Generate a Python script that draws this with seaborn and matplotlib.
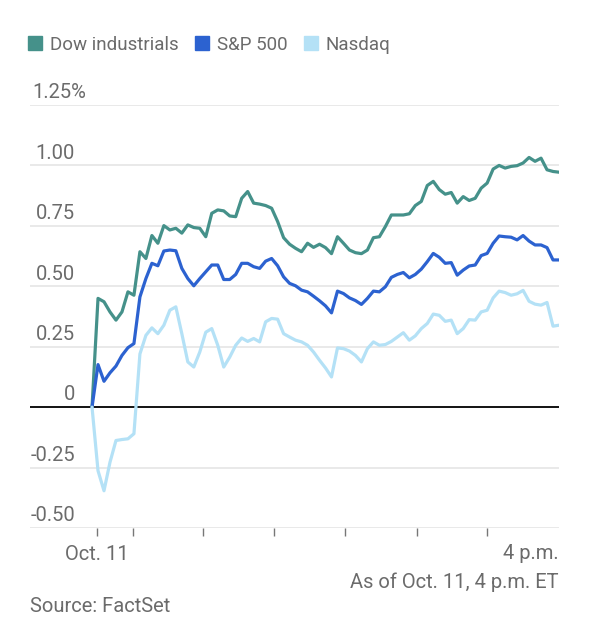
import seaborn as sns
import matplotlib.pyplot as plt
import matplotlib.transforms as mtransforms
from matplotlib.lines import Line2D
import numpy as np
import pandas as pd

# minutes after the 9:30 open, one reading every 5 minutes
minutes = list(range(0, 391, 5))

dow = [0, 0.45, 0.436, 0.394, 0.36, 0.394, 0.477, 0.463, 0.643, 0.615,
       0.71, 0.678, 0.751, 0.733, 0.74, 0.72, 0.754, 0.743, 0.74, 0.705,
       0.802, 0.816, 0.812, 0.791, 0.788, 0.864, 0.892, 0.844, 0.84, 0.834,
       0.823, 0.768, 0.701, 0.674, 0.657, 0.643, 0.678, 0.661, 0.674, 0.66,
       0.635, 0.705, 0.678, 0.65, 0.639, 0.635, 0.65, 0.701, 0.705, 0.747,
       0.795, 0.795, 0.795, 0.80, 0.834, 0.851, 0.917, 0.934, 0.90, 0.881,
       0.888, 0.844, 0.871, 0.855, 0.864, 0.906, 0.927, 0.985, 1.0, 0.989,
       0.996, 0.999, 1.01, 1.033, 1.017, 1.03, 0.982, 0.975, 0.972]
sp500 = [0, 0.176, 0.107, 0.142, 0.17, 0.214, 0.246, 0.263, 0.456, 0.532,
         0.595, 0.585, 0.646, 0.65, 0.647, 0.574, 0.532, 0.502, 0.532, 0.56,
         0.588, 0.588, 0.528, 0.528, 0.549, 0.595, 0.595, 0.581, 0.574, 0.604,
         0.615, 0.585, 0.539, 0.512, 0.502, 0.484, 0.477, 0.459, 0.44, 0.419,
         0.39, 0.48, 0.47, 0.452, 0.441, 0.425, 0.45, 0.48, 0.477, 0.498,
         0.537, 0.549, 0.557, 0.535, 0.549, 0.571, 0.602, 0.636, 0.62, 0.595,
         0.598, 0.546, 0.567, 0.584, 0.588, 0.627, 0.636, 0.678, 0.708, 0.705,
         0.703, 0.692, 0.71, 0.687, 0.671, 0.671, 0.66, 0.609, 0.609]
nasdaq = [0, -0.263, -0.346, -0.228, -0.138, -0.134, -0.131, -0.11, 0.22, 0.297,
          0.328, 0.304, 0.339, 0.401, 0.415, 0.304, 0.187, 0.166, 0.228, 0.31,
          0.325, 0.256, 0.166, 0.207, 0.256, 0.286, 0.272, 0.284, 0.27, 0.353,
          0.367, 0.364, 0.304, 0.29, 0.277, 0.27, 0.256, 0.228, 0.194, 0.162,
          0.125, 0.245, 0.242, 0.232, 0.214, 0.187, 0.242, 0.27, 0.256, 0.259,
          0.272, 0.29, 0.308, 0.277, 0.295, 0.325, 0.346, 0.385, 0.38, 0.355,
          0.36, 0.304, 0.325, 0.362, 0.36, 0.394, 0.401, 0.452, 0.48, 0.474,
          0.463, 0.469, 0.483, 0.438, 0.426, 0.422, 0.433, 0.335, 0.339]

series_names = ["Dow industrials", "S&P 500", "Nasdaq"]
colors = ["#45918a", "#2c62d0", "#b4e1f6"]
y_ticks = [-0.5, -0.25, 0, 0.25, 0.5, 0.75, 1.0, 1.25]
y_labels = ["-0.50", "-0.25", "0", "0.25", "0.50", "0.75", "1.00", "1.25%"]
x_tick_minutes = [4, 34, 93, 152, 211, 271, 330]

df = pd.DataFrame({
    "minute": minutes * 3,
    "change": dow + sp500 + nasdaq,
    "index": np.repeat(series_names, len(minutes)),
})

sns.set_style("white")
plt.rcParams["font.family"] = ["Roboto", "DejaVu Sans"]
grey = "#6b6b6b"
fs = 14.5

fig = plt.figure(figsize=(5.89, 6.33), dpi=100)
W, H = 589, 633
ax = fig.add_axes([30 / W, 1 - 528 / H, 529 / W, 423 / H])

for y in y_ticks:
    if y == 0:
        ax.axhline(y, color="black", lw=1.3, zorder=1)
    else:
        ax.axhline(y, color="#e3e3e3", lw=1.1, zorder=0)

sns.lineplot(data=df, x="minute", y="change", hue="index", palette=colors,
             hue_order=series_names, lw=2.3, ax=ax, legend=False, zorder=2)

ax.set_xlim(-51.8, 390)
ax.set_ylim(-0.5, 1.25)
sns.despine(ax=ax, left=True, bottom=True, top=True, right=True)
ax.set_yticks([])
ax.set_xlabel("")
ax.set_ylabel("")
ax.set_xticks(x_tick_minutes)
ax.set_xticklabels(["Oct. 11"] + [""] * (len(x_tick_minutes) - 1))
ax.tick_params(axis="x", length=6, width=1, color="#777777", pad=6,
               labelsize=fs, labelcolor=grey, bottom=True)

# y labels sit above their gridlines
trans = mtransforms.blended_transform_factory(ax.transAxes, ax.transData)
lift = mtransforms.ScaledTranslation(0, 2 / 72, fig.dpi_scale_trans)
for y, lab in zip(y_ticks, y_labels):
    if lab.endswith("%"):
        ax.text(0.004, y, lab, transform=trans + lift, ha="left", va="bottom",
                fontsize=fs, color=grey)
    else:
        ax.text(0.085, y, lab, transform=trans + lift, ha="right", va="bottom",
                fontsize=fs, color=grey)

ax.text(390, -0.5, "4 p.m.", ha="right", va="top", fontsize=fs, color=grey,
        transform=ax.transData + mtransforms.ScaledTranslation(0, -16 / 100, fig.dpi_scale_trans))

fig.text(558 / W, 1 - 582 / H, "As of Oct. 11, 4 p.m. ET", ha="right", va="center",
         fontsize=fs, color=grey)
fig.text(30 / W, 1 - 607 / H, "Source: FactSet", ha="left", va="center",
         fontsize=fs, color=grey)

handles = [Line2D([], [], marker="s", ls="", markersize=9.5, color=c) for c in colors]
fig.legend(handles, series_names, loc="center left", bbox_to_anchor=(28 / W, 1 - 45 / H),
           ncol=3, frameon=False, fontsize=13.5, labelcolor=grey, handlelength=0.7,
           handletextpad=0.45, columnspacing=0.9, borderaxespad=0, borderpad=0)

plt.savefig("out.png", dpi=100)
